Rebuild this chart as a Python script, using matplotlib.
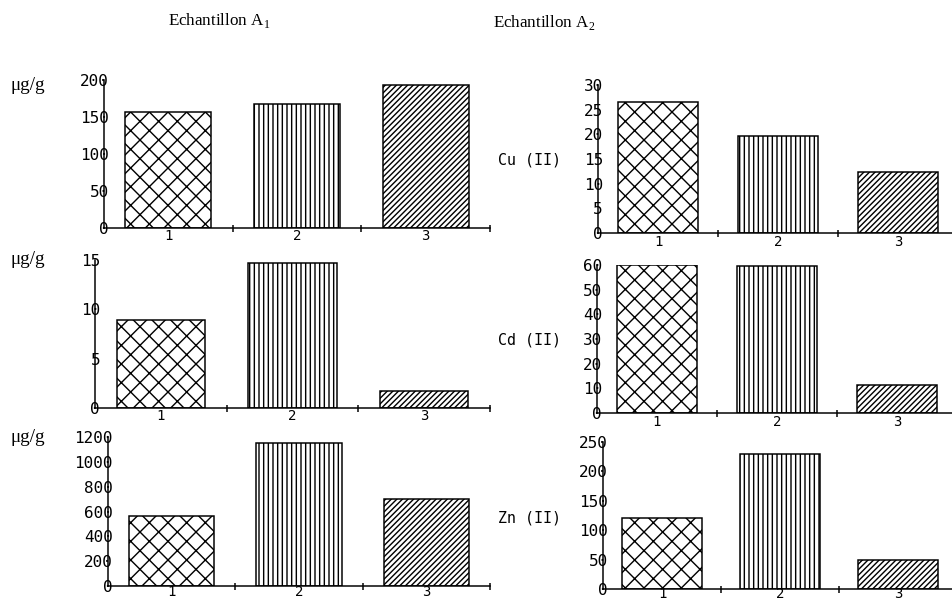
import matplotlib
matplotlib.use("Agg")
import matplotlib.pyplot as plt
import numpy as np

# hatch tile = 1 inch, so a high dpi gives the coarse hatching of the original
DPI = 168
W, H = 952, 599

def pt(px):
    return px * 72.0 / DPI

plt.rcParams['hatch.linewidth'] = pt(1.4)
plt.rcParams['mathtext.fontset'] = 'custom'
plt.rcParams['mathtext.rm'] = 'Liberation Serif'

samples = ['1', '2', '3']
hatches = ['xxx', '||||||', '/' * 10]

cu_a1 = [157, 168, 193]
cu_a2 = [26.6, 19.6, 12.4]
cd_a1 = [8.9, 14.7, 1.7]
cd_a2 = [59.8, 59.5, 11.3]
zn_a1 = [562, 1150, 700]
zn_a2 = [120, 230, 50]

metals = ['Cu (II)', 'Cd (II)', 'Zn (II)']
unit = 'μg/g'

fig = plt.figure(figsize=(W / DPI, H / DPI), dpi=DPI)


def box(x0, x1, top, base):
    return [x0 / W, 1 - base / H, (x1 - x0) / W, (base - top) / H]


def panel(pos, vals, ymax, step, xpad=1.5):
    ax = fig.add_axes(pos)
    ax.patch.set_alpha(0)
    x = np.arange(1, len(vals) + 1)
    for xi, v, h in zip(x, vals, hatches):
        ax.bar(xi, v, width=0.67, color='white', edgecolor='black',
               hatch=h, linewidth=pt(1.5))
    ax.set_xlim(0.5, 3.5)
    ax.set_ylim(0, ymax)
    for s in ['top', 'right']:
        ax.spines[s].set_visible(False)
    for s in ['left', 'bottom']:
        ax.spines[s].set_linewidth(pt(1.5))
    ticks = np.arange(0, ymax + 1e-9, step)
    ax.set_yticks(ticks)
    ax.set_yticklabels([f'{t:g}' for t in ticks])
    ax.set_xticks(x)
    ax.set_xticklabels(samples)
    ax.set_xticks([1.5, 2.5, 3.5], minor=True)
    ax.tick_params(axis='y', length=0, pad=-pt(5), labelsize=pt(16))
    ax.tick_params(axis='x', which='major', length=0, pad=pt(xpad), labelsize=pt(14))
    ax.tick_params(axis='x', which='minor', direction='inout', length=pt(7),
                   width=pt(1.5))
    for lab in ax.get_yticklabels() + ax.get_xticklabels():
        lab.set_family('DejaVu Sans Mono')
    return ax


# left column: Echantillon A1
panel(box(104, 490, 80, 228), cu_a1, 200, 50)
panel(box(95, 490, 260, 408), cd_a1, 15, 5)
panel(box(108, 490, 437, 586), zn_a1, 1200, 200, xpad=-1)

# right column: Echantillon A2
panel(box(598, 958, 85, 233), cu_a2, 30, 5)
panel(box(597, 957, 265, 413), cd_a2, 60, 10)
panel(box(603, 957, 442, 589), zn_a2, 250, 50, xpad=-2.5)

for y in [85, 259, 437]:
    fig.text(10 / W, 1 - y / H, unit, family='Liberation Serif',
             fontsize=pt(19), va='center', ha='left')

for m, y in zip(metals, [160, 340, 518]):
    fig.text(530 / W, 1 - y / H, m, family='DejaVu Sans Mono',
             fontsize=pt(15), va='center', ha='center')

fig.text(168 / W, 1 - 20 / H, r'Echantillon A$_\mathrm{1}$',
         family='Liberation Serif', fontsize=pt(17), va='center', ha='left')
fig.text(493 / W, 1 - 22 / H, r'Echantillon A$_\mathrm{2}$',
         family='Liberation Serif', fontsize=pt(17), va='center', ha='left')

fig.savefig('out.png', dpi=DPI, facecolor='white')
